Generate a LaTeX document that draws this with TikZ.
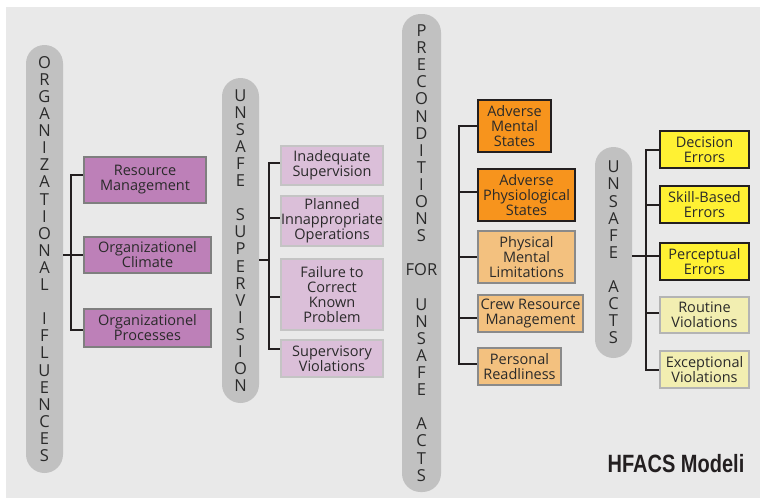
\documentclass[tikz,border=0pt]{standalone}
\usepackage{fontspec}
\setmainfont{Open Sans}
\newfontfamily\hfont{Liberation Sans}
\definecolor{bgc}{HTML}{E9E9E9}
\definecolor{pillc}{HTML}{C1C1C1}
\definecolor{txtc}{HTML}{2A2A2A}
\definecolor{linec}{HTML}{231F20}
\definecolor{purc}{HTML}{BD80B8}
\definecolor{purb}{HTML}{7F7F7F}
\definecolor{lpurc}{HTML}{DBBFD9}
\definecolor{lpurb}{HTML}{C4C4C4}
\definecolor{orc}{HTML}{F7941D}
\definecolor{lorc}{HTML}{F3C17F}
\definecolor{lorb}{HTML}{8A8A8A}
\definecolor{yelc}{HTML}{FFF133}
\definecolor{pyelc}{HTML}{F2EEB1}
\definecolor{pyelb}{HTML}{B4B4B4}
\begin{document}
\begin{tikzpicture}[x=1pt,y=-1pt,
  box/.style={rectangle,line width=2pt,inner sep=0pt,align=center,text=txtc,
    font=\fontsize{14.5}{15}\selectfont},
  purbox/.style={box,fill=purc,draw=purb},
  lpurbox/.style={box,fill=lpurc,draw=lpurb},
  orbox/.style={box,fill=orc,draw=linec},
  lorbox/.style={box,fill=lorc,draw=lorb},
  yelbox/.style={box,fill=yelc,draw=linec},
  pyelbox/.style={box,fill=pyelc,draw=pyelb},
  pill/.style={rectangle,fill=pillc,minimum width=37,rounded corners=18.5,inner sep=0pt,
    align=center,text=txtc,font=\fontsize{16.5}{17.1}\selectfont},
  conn/.style={line width=2pt,draw=linec}]
\useasboundingbox (0,0) rectangle (760,498);
\fill[white] (0,0) rectangle (760,498);
\fill[bgc] (6,7) rectangle (760,498);

% pills
\node[pill,minimum height=428] (p1) at (44.5,259)
  {O\\R\\G\\A\\N\\I\\Z\\A\\T\\I\\O\\N\\A\\L\\~\\I\\F\\L\\U\\E\\N\\C\\E\\S};
\node[pill,minimum height=325] (p2) at (240.5,240.5)
  {U\\N\\S\\A\\F\\E\\~\\S\\U\\P\\E\\R\\V\\I\\S\\I\\O\\N};
\node[pill,minimum height=478,minimum width=39] (p3) at (421.5,253)
  {P\\R\\E\\C\\O\\N\\D\\I\\T\\I\\O\\N\\S\\~\\FOR\\~\\U\\N\\S\\A\\F\\E\\~\\A\\C\\T\\S};
\node[pill,minimum height=211] (p4) at (613.5,252.5)
  {U\\N\\S\\A\\F\\E\\~\\A\\C\\T\\S};

% column 1
\node[purbox,minimum width=122,minimum height=46] (rm) at (145,180) {Resource\\Management};
\node[purbox,minimum width=127,minimum height=36] (oc) at (147.5,255) {Organizationel\\Climate};
\node[purbox,minimum width=127,minimum height=38] (op) at (147.5,328) {Organizationel\\Processes};

% column 2
\node[lpurbox,minimum width=102,minimum height=39] (is) at (332,165.5) {Inadequate\\Supervision};
\node[lpurbox,minimum width=102,minimum height=50] (pi) at (332,221) {Planned\\Innappropriate\\Operations};
\node[lpurbox,minimum width=102,minimum height=71] (fc) at (332,294.5) {Failure to\\Correct\\Known\\Problem};
\node[lpurbox,minimum width=102,minimum height=37] (sv) at (332,358.5) {Supervisory\\Violations};

% column 3
\node[orbox,minimum width=73,minimum height=52] (am) at (514.5,126) {Adverse\\Mental\\States};
\node[orbox,minimum width=97,minimum height=52] (ap) at (526.5,195) {Adverse\\Physiological\\States};
\node[lorbox,minimum width=97,minimum height=52] (pm) at (526.5,257) {Physical\\Mental\\Limitations};
\node[lorbox,minimum width=105,minimum height=37] (cr) at (530.5,313.5) {Crew Resource\\Management};
\node[lorbox,minimum width=83,minimum height=37] (pr) at (519.5,366.5) {Personal\\Readliness};

% column 4
\node[yelbox,minimum width=89,minimum height=37] (de) at (704.5,149.5) {Decision\\Errors};
\node[yelbox,minimum width=89,minimum height=37] (sb) at (704.5,204.5) {Skill-Based\\Errors};
\node[yelbox,minimum width=89,minimum height=37] (pe) at (704.5,261.5) {Perceptual\\Errors};
\node[pyelbox,minimum width=89,minimum height=36] (rv) at (704.5,315) {Routine\\Violations};
\node[pyelbox,minimum width=89,minimum height=37] (ev) at (704.5,369.5) {Exceptional\\Violations};

% buses
\coordinate (b1) at (71,0);
\coordinate (b2) at (269,0);
\coordinate (b3) at (459,0);
\coordinate (b4) at (646,0);

% column 1 connectors
\draw[conn] ([yshift=5]rm.west) -- ([yshift=5]rm.west -| b1) -- ([yshift=-2]op.west -| b1) -- ([yshift=-2]op.west);
\draw[conn] (p1.east |- oc.west) -- (oc.west);

% column 2 connectors
\draw[conn] ([yshift=2.5]is.west) -- ([yshift=2.5]is.west -| b2) -- ([yshift=9.5]sv.west -| b2) -- ([yshift=9.5]sv.west);
\draw[conn] ([yshift=3]pi.west) -- ([yshift=3]pi.west -| b2);
\draw[conn] ([yshift=-2.5]fc.west) -- ([yshift=-2.5]fc.west -| b2);
\draw[conn] ([yshift=-19.5]p2.east) -- ([yshift=-19.5]p2.east -| b2);

% column 3 connectors
\draw[conn] (am.west) -- (am.west -| b3) -- ([yshift=2.5]pr.west -| b3) -- ([yshift=2.5]pr.west);
\draw[conn] ([yshift=3]ap.west) -- ([yshift=3]ap.west -| b3);
\draw[conn] (pm.west) -- (pm.west -| b3);
\draw[conn] ([yshift=-4.5]cr.west) -- ([yshift=-4.5]cr.west -| b3);

% column 4 connectors
\draw[conn] (de.west) -- (de.west -| b4) -- (ev.west -| b4) -- (ev.west);
\draw[conn] (sb.west) -- (sb.west -| b4);
\draw[conn] ([yshift=5.5]pe.west) -- ([yshift=5.5]pe.west -| p4.east);
\draw[conn] ([yshift=2]rv.west) -- ([yshift=2]rv.west -| b4);

% title
\node[anchor=base,inner sep=0pt,text=linec,font=\hfont\bfseries\fontsize{25}{25}\selectfont] (title) at (676,472)
  {\scalebox{0.8}[1]{HFACS Modeli}};
\end{tikzpicture}
\end{document}
